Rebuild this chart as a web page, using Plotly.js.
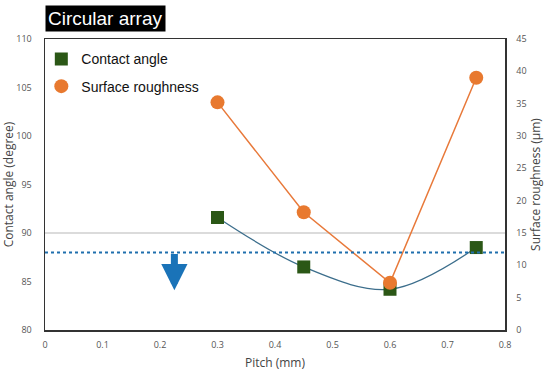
<!DOCTYPE html>
<html><head><meta charset="utf-8">
<script src="https://cdn.plot.ly/plotly-3.0.1.min.js"></script>
<style>html,body{margin:0;padding:0;background:#fff}#c{width:550px;height:373px}</style>
</head><body><div id="c"></div>
<script>
const pitch = [0.3, 0.45, 0.6, 0.75];
const contactAngle = [91.6, 86.5, 84.2, 88.5];
const roughness = [35.2, 18.2, 7.3, 39.0];
const thresholdAngle = 88;
const referenceAngle = 90;
const arrowX = 0.225;
const arrowFrom = 88;
const arrowTo = 84.1;

const tickFont = {family: 'Open Sans, DejaVu Sans, sans-serif', size: 9, color: '#555'};
const titleFont = {family: 'Open Sans, DejaVu Sans, sans-serif', size: 12, color: '#444'};

const traces = [
  {x: pitch, y: contactAngle, type: 'scatter', mode: 'lines', line: {color: '#3c6e8c', width: 1.3, shape: 'spline', smoothing: 1}, showlegend: false, hoverinfo: 'skip'},
  {x: pitch, y: roughness, yaxis: 'y2', type: 'scatter', mode: 'lines', line: {color: '#e8793a', width: 1.5}, showlegend: false, hoverinfo: 'skip'},
  {x: pitch, y: contactAngle, type: 'scatter', mode: 'markers', name: 'Contact angle', legendgroup: 'a', marker: {symbol: 'square', size: 13, color: '#2b5716'}},
  {x: pitch, y: roughness, yaxis: 'y2', type: 'scatter', mode: 'markers', name: 'Surface roughness', legendgroup: 'b', marker: {symbol: 'circle', size: 14, color: '#e8792f'}}
];

const layout = {
  width: 550, height: 373,
  margin: {l: 45, r: 45, t: 39, b: 43},
  paper_bgcolor: '#fff', plot_bgcolor: '#fff',
  showlegend: true,
  legend: {x: -0.008, y: 0.985, xanchor: 'left', yanchor: 'top', traceorder: 'grouped', tracegroupgap: 6, font: {family: 'Liberation Sans, Arial, sans-serif', size: 14, color: '#111'}, bgcolor: 'rgba(0,0,0,0)', itemsizing: 'trace'},
  xaxis: {range: [0, 0.8], tickvals: [0,0.1,0.2,0.3,0.4,0.5,0.6,0.7,0.8], ticktext: ['0','0.1','0.2','0.3','0.4','0.5','0.6','0.7','0.8'], showgrid: false, zeroline: false, showline: true, linecolor: '#333', linewidth: 1.5, mirror: true, ticks: 'outside', ticklen: 6, tickcolor: 'rgba(0,0,0,0)', tickfont: tickFont, title: {text: 'Pitch (mm)', font: titleFont, standoff: 8}},
  yaxis: {range: [80, 110], tickvals: [80,85,90,95,100,105,110], showgrid: false, zeroline: false, showline: true, linecolor: '#333', linewidth: 1.5, ticks: 'outside', ticklen: 10, tickcolor: 'rgba(0,0,0,0)', tickfont: tickFont, title: {text: 'Contact angle (degree)', font: titleFont, standoff: 3}},
  yaxis2: {range: [0, 45], tickvals: [0,5,10,15,20,25,30,35,40,45], overlaying: 'y', side: 'right', showgrid: false, zeroline: false, showline: true, linecolor: '#333', linewidth: 1.5, ticks: 'outside', ticklen: 8, tickcolor: 'rgba(0,0,0,0)', tickfont: tickFont, title: {text: 'Surface roughness (μm)', font: titleFont, standoff: 6}},
  shapes: [
    {type: 'line', xref: 'paper', x0: 0, x1: 1, yref: 'y', y0: referenceAngle, y1: referenceAngle, line: {color: '#cfcfcf', width: 1.3}, layer: 'below'},
    {type: 'line', xref: 'paper', x0: 0, x1: 1, yref: 'y', y0: thresholdAngle, y1: thresholdAngle, line: {color: '#1f6fad', width: 2, dash: 'dot'}, layer: 'above'}
  ],
  annotations: [
    {xref: 'paper', yref: 'paper', x: 0.0, y: 1.0, yshift: 7, xanchor: 'left', yanchor: 'bottom', text: 'Circular array', showarrow: false, bgcolor: '#000', font: {family: 'Liberation Sans, Arial, sans-serif', size: 19, color: '#fff'}, borderpad: 2},
    {x: arrowX, y: arrowTo, xref: 'x', yref: 'y', ax: arrowX, ay: arrowFrom, axref: 'x', ayref: 'y', showarrow: true, arrowhead: 2, arrowsize: 0.75, arrowwidth: 7, arrowcolor: '#1a73b8', text: ''}
  ]
};

Plotly.newPlot('c', traces, layout, {displayModeBar: false, staticPlot: true});
</script></body></html>
